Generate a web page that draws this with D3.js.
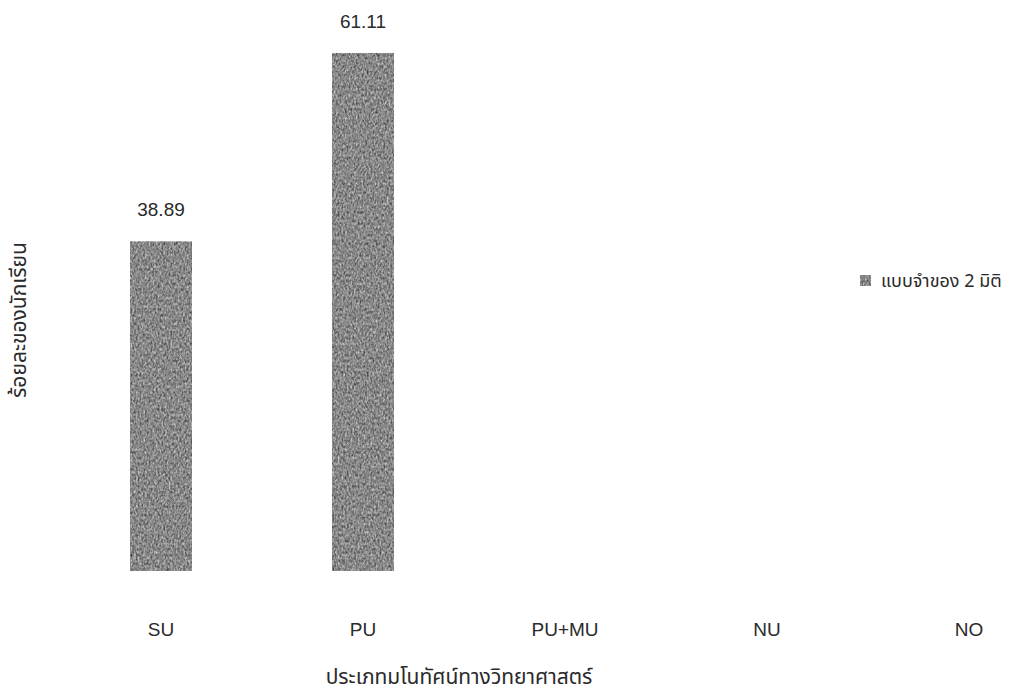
<!DOCTYPE html>
<html>
<head>
<meta charset="utf-8">
<script src="https://cdn.jsdelivr.net/npm/d3@7/dist/d3.min.js"></script>
<style>
  html, body { margin: 0; padding: 0; background: #fff; }
  svg { display: block; }
  text { font-family: "Liberation Sans", Arial, "Noto Sans", sans-serif; fill: #2a2a2a; }
  .thai { font-family: "Noto Sans Thai", "Noto Sans", "DejaVu Sans", sans-serif; }
</style>
</head>
<body>
<svg id="chart" width="1009" height="694"></svg>
<script>
// Percentage of students per type of scientific concept (2D model)
const categories = ["SU", "PU", "PU+MU", "NU", "NO"];
const values = [38.89, 61.11, 0, 0, 0];
const seriesName = "แบบจำของ 2 มิติ";
const xTitle = "ประเภทมโนทัศน์ทางวิทยาศาสตร์";
const yTitle = "ร้อยละของนักเรียน";

const W = 1009, H = 694;
const svg = d3.select("#chart");

// Grainy grey fill for the bars
const defs = svg.append("defs");
const f = defs.append("filter").attr("id", "grain")
  .attr("x", 0).attr("y", 0).attr("width", 1).attr("height", 1)
  .attr("color-interpolation-filters", "sRGB");
f.append("feTurbulence").attr("type", "fractalNoise")
  .attr("baseFrequency", "0.55 0.35").attr("numOctaves", 2).attr("seed", 4).attr("result", "n");
f.append("feColorMatrix").attr("in", "n").attr("type", "matrix")
  .attr("values", "0.5 0.5 0 0 0.03  0.5 0.5 0 0 0.03  0.5 0.5 0 0 0.03  0 0 0 0 1")
  .attr("result", "g");
f.append("feComposite").attr("in", "g").attr("in2", "SourceGraphic").attr("operator", "in");

const x = d3.scaleBand()
  .domain(categories)
  .range([60, 60 + 202 * 5])
  .paddingInner(0.693)
  .paddingOuter(0.3465);

const y = d3.scaleLinear()
  .domain([0, 65])
  .range([571, 571 - 65 * 8.477]);

const data = categories.map((c, i) => ({ c, v: values[i] }));

// Bars
svg.append("g").selectAll("rect")
  .data(data.filter(d => d.v > 0))
  .join("rect")
  .attr("x", d => x(d.c))
  .attr("y", d => y(d.v))
  .attr("width", x.bandwidth())
  .attr("height", d => y(0) - y(d.v))
  .attr("fill", "#888")
  .attr("filter", "url(#grain)");

// Value labels
svg.append("g").selectAll("text")
  .data(data.filter(d => d.v > 0))
  .join("text")
  .attr("x", d => x(d.c) + x.bandwidth() / 2)
  .attr("y", d => y(d.v) - 25)
  .attr("text-anchor", "middle")
  .attr("font-size", 19)
  .text(d => d3.format(".2f")(d.v));

// Category axis (labels only)
const xAxis = svg.append("g")
  .attr("transform", "translate(0,571)")
  .call(d3.axisBottom(x).tickSize(0).tickPadding(52));
xAxis.select(".domain").remove();
xAxis.selectAll("text")
  .attr("font-size", 19)
  .attr("fill", "#2a2a2a")
  .style("font-family", "'Liberation Sans', Arial, sans-serif");

// Axis titles
svg.append("text").attr("class", "thai")
  .attr("x", 459).attr("y", 684)
  .attr("text-anchor", "middle")
  .attr("font-size", 21)
  .text(xTitle);

svg.append("text").attr("class", "thai")
  .attr("transform", "translate(26,320) rotate(-90)")
  .attr("text-anchor", "middle")
  .attr("font-size", 21)
  .text(yTitle);

// Legend
const lg = svg.append("g").attr("transform", "translate(860,275)");
lg.append("rect").attr("width", 11).attr("height", 11)
  .attr("fill", "#888").attr("filter", "url(#grain)");
lg.append("text").attr("class", "thai")
  .attr("x", 21).attr("y", 12)
  .attr("font-size", 18)
  .text(seriesName);
</script>
</body>
</html>
